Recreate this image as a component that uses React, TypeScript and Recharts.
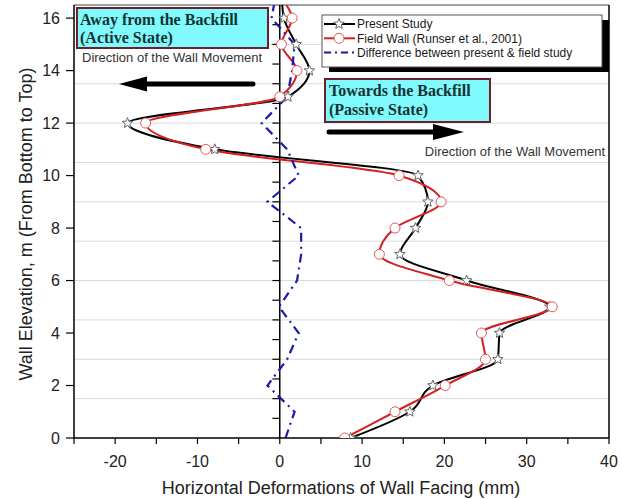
import { LineChart, Line, XAxis, YAxis, ReferenceLine } from 'recharts';

// Wall elevation (m) for each reading, bottom to top
const ELEVATION = [0, 1, 2, 3, 4, 5, 6, 7, 8, 9, 10, 11, 12, 13, 14, 15, 16, 16.5];
// Horizontal facing deformation (mm)
const PRESENT_STUDY = [8.6, 15.8, 18.6, 26.5, 26.7, 32.8, 22.7, 14.6, 16.5, 18.0, 16.8, -7.9, -18.5, 1.0, 3.6, 2.0, 0.5, 0.3];
const FIELD_WALL = [7.9, 14.0, 20.1, 25.0, 24.5, 33.1, 20.6, 12.1, 14.0, 19.6, 14.5, -9.0, -16.3, 0.0, 2.1, 0.2, 1.5, 0.8];
const DIFFERENCE = [0.7, 1.8, -1.5, 0.9, 2.3, -0.1, 2.1, 2.6, 2.6, -1.5, 2.3, 0.9, -2.2, 0.9, 1.5, 1.8, -1.0, -0.7];

const X_TICKS = [-25, -20, -15, -10, -5, 0, 5, 10, 15, 20, 25, 30, 35, 40];
const Y_TICKS = [0, 2, 4, 6, 8, 10, 12, 14, 16];
const GRID_LINES = [1.5, 3, 4.5, 6, 7.5, 9, 10.5, 12, 13.5, 15];
const ZERO_AXIS_TICKS = [0.75, 1.5, 2.25, 3, 3.75, 4.5, 5.25, 6, 6.75, 7.5, 8.25, 9, 9.75, 10.5, 11.25, 12, 12.75, 13.5, 14.25, 15, 15.75];

const SANS = '"Liberation Sans", Arial, sans-serif';
const SERIF = '"Liberation Serif", "Times New Roman", serif';
const CYAN = '#80fafc';
const MAROON = '#6e1f2c';
const RED = '#d42020';
const BLUE = '#1b1ba8';

const toSeries = (values: number[]) => ELEVATION.map((elev, i) => ({ elev, dx: values[i] }));

function starPoints(cx: number, cy: number, R: number, r: number) {
  const pts: string[] = [];
  for (let i = 0; i < 10; i++) {
    const rad = i % 2 === 0 ? R : r;
    const a = -Math.PI / 2 + (i * Math.PI) / 5;
    pts.push(`${(cx + rad * Math.cos(a)).toFixed(2)},${(cy + rad * Math.sin(a)).toFixed(2)}`);
  }
  return pts.join(' ');
}

const Star = ({ cx, cy }: { cx: number; cy: number }) => (
  <polygon points={starPoints(cx, cy, 5.5, 2.4)} fill="#fff" stroke="#666" strokeWidth={1} />
);

const Ring = ({ cx, cy }: { cx: number; cy: number }) => (
  <circle cx={cx} cy={cy} r={5} fill="#fff" stroke="#e05a5a" strokeWidth={1} />
);

// top-of-wall points carry the line to the frame but get no marker
const renderStar = (props: any) => {
  const { cx, cy, payload, index } = props;
  if (payload.elev > 16 || cx == null) return <g key={`s-${index}`} />;
  return <g key={`s-${index}`}><Star cx={cx} cy={cy} /></g>;
};

const renderRing = (props: any) => {
  const { cx, cy, payload, index } = props;
  if (payload.elev > 16 || cx == null) return <g key={`c-${index}`} />;
  return <g key={`c-${index}`}><Ring cx={cx} cy={cy} /></g>;
};

const LegendRow = ({ y, label, children }: { y: number; label: string; children: React.ReactNode }) => (
  <g>
    {children}
    <text x={357} y={y + 4.3} fontSize={12} fontFamily={SANS} fill="#1a1a1a">{label}</text>
  </g>
);

function Annotations() {
  return (
    <svg
      width={622}
      height={499}
      style={{ position: 'absolute', left: 0, top: 0, pointerEvents: 'none' }}
    >
      {/* axis titles */}
      <text
        transform="translate(27,224) rotate(-90)"
        textAnchor="middle"
        dominantBaseline="middle"
        fontSize={18}
        fontFamily={SANS}
        fill="#222"
      >
        Wall Elevation, m (From Bottom to Top)
      </text>
      <text x={341} y={494} textAnchor="middle" fontSize={18} fontFamily={SANS} fill="#222">
        Horizontal Deformations of Wall Facing (mm)
      </text>

      {/* active side */}
      <rect x={77} y={8} width={191} height={40} fill={CYAN} stroke={MAROON} strokeWidth={2} />
      <text x={80} y={25} fontSize={16} fontWeight="bold" fontFamily={SERIF} fill="#143232">Away from the Backfill</text>
      <text x={80} y={43} fontSize={16} fontWeight="bold" fontFamily={SERIF} fill="#143232">(Active State)</text>
      <text x={82} y={62} fontSize={13} fontFamily={SANS} fill="#333">Direction of the Wall Movement</text>
      <line x1={253} y1={84} x2={140} y2={84} stroke="#000" strokeWidth={5} strokeLinecap="round" />
      <polygon points="119,84 147,76.5 147,91.5" fill="#000" />

      {/* passive side */}
      <rect x={325} y={79} width={165} height={43} fill={CYAN} stroke={MAROON} strokeWidth={2} />
      <text x={329} y={96} fontSize={16} fontWeight="bold" fontFamily={SERIF} fill="#143232">Towards the Backfill</text>
      <text x={329} y={115} fontSize={16} fontWeight="bold" fontFamily={SERIF} fill="#143232">(Passive State)</text>
      <line x1={329} y1={132} x2={440} y2={132} stroke="#000" strokeWidth={5} strokeLinecap="round" />
      <polygon points="464,132 433,124 433,140" fill="#000" />
      <text x={605} y={156} textAnchor="end" fontSize={13} fontFamily={SANS} fill="#333">Direction of the Wall Movement</text>

      {/* legend */}
      <rect x={329} y={20} width={280} height={52} fill="#000" />
      <rect x={322} y={15} width={280} height={52} fill="#fff" stroke="#555" strokeWidth={1} />
      <LegendRow y={24} label="Present Study">
        <line x1={324} y1={24} x2={355} y2={24} stroke="#000" strokeWidth={2} />
        <Star cx={339} cy={24} />
      </LegendRow>
      <LegendRow y={38.3} label="Field Wall (Runser et al., 2001)">
        <line x1={324} y1={38.3} x2={355} y2={38.3} stroke={RED} strokeWidth={2} />
        <Ring cx={339} cy={38.3} />
      </LegendRow>
      <LegendRow y={52.5} label="Difference between present & field study">
        <line x1={324} y1={52.5} x2={355} y2={52.5} stroke={BLUE} strokeWidth={2.2} strokeDasharray="7 4 2 4" />
      </LegendRow>
    </svg>
  );
}

export default function App() {
  return (
    <div style={{ position: 'absolute', left: 0, top: 0, width: 622, height: 499, background: '#fff' }}>
      <LineChart layout="vertical" width={622} height={499} margin={{ top: 5, right: 13, bottom: 0, left: 0 }}>
        <XAxis
          type="number"
          domain={[-25, 40]}
          ticks={X_TICKS}
          interval={0}
          allowDataOverflow
          height={61}
          tickSize={6}
          tickMargin={12}
          tickFormatter={(v: number) => (v % 10 === 0 ? String(v) : '')}
          tick={{ fill: '#222', fontSize: 16, fontFamily: SANS }}
          tickLine={{ stroke: '#000', strokeWidth: 1.2 }}
          axisLine={{ stroke: '#000', strokeWidth: 1.5 }}
        />
        <YAxis
          type="number"
          dataKey="elev"
          domain={[0, 16.5]}
          ticks={Y_TICKS}
          interval={0}
          reversed
          allowDataOverflow
          width={74}
          tickSize={8}
          tickMargin={6}
          tick={{ fill: '#222', fontSize: 16, fontFamily: SANS }}
          tickLine={{ stroke: '#000', strokeWidth: 1.2 }}
          axisLine={{ stroke: '#000', strokeWidth: 1.5 }}
        />

        {GRID_LINES.map((v) => (
          <ReferenceLine key={`g-${v}`} y={v} stroke="#dadada" strokeWidth={1} />
        ))}

        {/* frame and the zero axis */}
        <ReferenceLine y={16.5} stroke="#444" strokeWidth={1} />
        <ReferenceLine x={40} stroke="#000" strokeWidth={1.5} />
        <ReferenceLine x={0} stroke="#000" strokeWidth={1.5} />
        {ZERO_AXIS_TICKS.map((v) => (
          <ReferenceLine
            key={`z-${v}`}
            segment={[{ x: -0.9, y: v }, { x: 0, y: v }]}
            stroke="#000"
            strokeWidth={1.2}
          />
        ))}

        <Line
          data={toSeries(PRESENT_STUDY)}
          dataKey="dx"
          name="Present Study"
          type="monotone"
          stroke="#000"
          strokeWidth={2}
          dot={renderStar}
          isAnimationActive={false}
        />
        <Line
          data={toSeries(FIELD_WALL)}
          dataKey="dx"
          name="Field Wall (Runser et al., 2001)"
          type="monotone"
          stroke={RED}
          strokeWidth={2}
          dot={renderRing}
          isAnimationActive={false}
        />
        <Line
          data={toSeries(DIFFERENCE)}
          dataKey="dx"
          name="Difference between present & field study"
          type="linear"
          stroke={BLUE}
          strokeWidth={2.2}
          strokeDasharray="9 5 2 5"
          dot={false}
          isAnimationActive={false}
        />
      </LineChart>
      <Annotations />
    </div>
  );
}
